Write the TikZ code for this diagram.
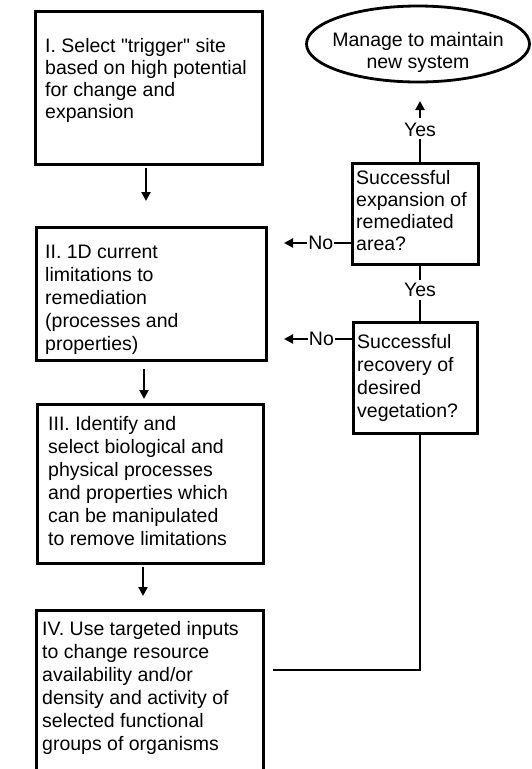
\documentclass[tikz,border=0pt]{standalone}
\usepackage{fontspec}
\setmainfont{Liberation Sans}[Ligatures=TeXOff]
\usetikzlibrary{arrows.meta,shapes.geometric}
\begin{document}
\begin{tikzpicture}[x=1pt,y=-1pt,
  box/.style={draw, line width=2.8pt, rectangle, inner sep=0pt, anchor=north west},
  txt/.style={align=left, inner sep=0pt, anchor=base west, font=\fontsize{19.5}{23}\selectfont},
  tight/.style={font=\fontsize{19.5}{22}\selectfont},
  arr/.style={line width=2.8pt, -{Triangle[length=9pt,width=9pt]}},
  ln/.style={line width=2.8pt},
  lab/.style={inner sep=0pt, font=\fontsize{19.5}{23}\selectfont},
  nolab/.style={inner sep=1pt, fill=white, font=\fontsize{19.5}{23}\selectfont}]
\useasboundingbox (0,0) rectangle (531,769);
\clip (0,0) rectangle (531,769);
% main boxes
\node[box, minimum width=227pt, minimum height=153pt] (b1) at (34,10) {};
\node[box, minimum width=230pt, minimum height=133pt] (b2) at (35,226) {};
\node[box, minimum width=226pt, minimum height=159pt] (b3) at (36,403) {};
\node[box, minimum width=227pt, minimum height=200pt] (b4) at (35,609) {};
% texts (anchored at the baseline of the last line)
\node[txt, tight] (t1) at (45,118) {I. Select "trigger" site\\based on high potential\\for change and\\expansion};
\node[txt] (t2) at (45,350) {II. 1D current\\limitations to\\remediation\\(processes and\\properties)};
\node[txt] (t3) at (48,545) {III. Identify and\\select biological and\\physical processes\\and properties which\\can be manipulated\\to remove limitations};
\node[txt] (t4) at (42,750) {IV. Use targeted inputs\\to change resource\\availability and/or\\density and activity of\\selected functional\\groups of organisms};
% down arrows
\coordinate (a1s) at (146,168); \coordinate (a1e) at (146,201);
\coordinate (a2s) at (144,369); \coordinate (a2e) at (144,399);
\coordinate (a3s) at (143,567); \coordinate (a3e) at (143,596);
\draw[arr] (a1s) -- (a1e);
\draw[arr] (a2s) -- (a2e);
\draw[arr] (a3s) -- (a3e);
% ellipse
\node[draw, ellipse, line width=2.8pt, minimum width=223pt, minimum height=76pt, inner sep=0pt] (e) at (418,44) {};
\node[align=center, inner sep=0pt, anchor=base, font=\fontsize{19.5}{22}\selectfont] (te) at (418,68) {Manage to maintain\\new system};
% decision boxes
\node[box, minimum width=126pt, minimum height=101pt] (d1) at (351,162) {};
\node[box, minimum width=124pt, minimum height=111pt] (d2) at (352,321) {};
\node[txt, tight] (td1) at (356,250) {Successful\\expansion of\\remediated\\area?};
\node[txt] (td2) at (357,417) {Successful\\recovery of\\desired\\vegetation?};
% yes connectors
\node[lab] (y1) at (420,130) {Yes};
\node[lab] (y2) at (420,290) {Yes};
\coordinate (y1top) at (420,118); \coordinate (y1tip) at (420,101);
\draw[ln, shorten >=2pt] (d1.north -| y1) -- (y1.south);
\draw[arr] (y1top) -- (y1tip);
\draw[ln, shorten >=3pt] (d1.south -| y2) -- (y2.north);
\draw[ln, shorten <=3pt] (y2.south) -- (d2.north -| y2);
% no connectors
\coordinate (n1tip) at (284,243);
\coordinate (n2tip) at (284,339);
\draw[arr] (d1.west |- n1tip) -- (n1tip) node[nolab, pos=0.45] (no1) {No};
\draw[arr] (d2.west |- n2tip) -- (n2tip) node[nolab, pos=0.45] (no2) {No};
% feedback
\coordinate (fb) at (273,670);
\draw[ln] (d2.south -| y2) |- (fb);
\end{tikzpicture}
\end{document}
